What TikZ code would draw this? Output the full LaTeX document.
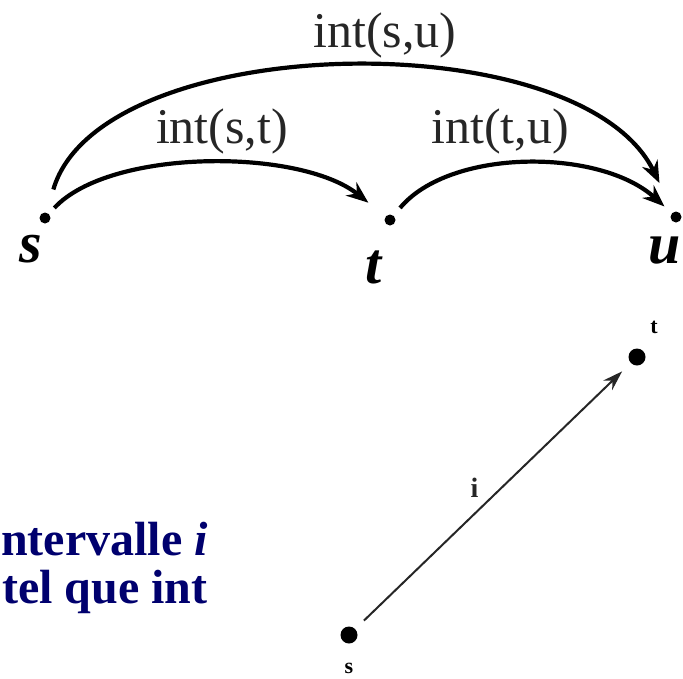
\documentclass[tikz,border=0pt]{standalone}
\usepackage{fontspec}
\setmainfont{Liberation Serif}
\usetikzlibrary{arrows.meta}
\definecolor{navyblue}{RGB}{0,0,110}

\begin{document}
\begin{tikzpicture}[x=1pt, y=-1pt,
    dot/.style={circle, fill=black, inner sep=0pt, minimum size=11pt},
    bigdot/.style={circle, fill=black, inner sep=0pt, minimum size=17pt},
    arc/.style={-{Stealth[length=22pt,width=17pt]}, line width=4.2pt},
    thinarc/.style={-{Stealth[length=20pt,width=13pt]}, line width=2pt, black!85},
    ptname/.style={font=\fontsize{58}{60}\selectfont\bfseries\itshape},
    intlabel/.style={font=\fontsize{50}{52}\selectfont, text=black!85},
    smalllabel/.style={font=\fontsize{22}{24}\selectfont\bfseries},
    bluetext/.style={font=\fontsize{48}{48}\selectfont\bfseries, text=navyblue},
]
    \useasboundingbox (0,0) rectangle (683,678);

    % upper figure: s, t, u
    \node[dot] (ds) at (45,218) {};
    \node[dot] (dt) at (390,220) {};
    \node[dot] (du) at (676,217) {};

    \node[ptname, anchor=base] (ls) at (31,262) {s};
    \node[ptname, anchor=base] (lt) at (374,283) {t};
    \node[ptname, anchor=base] (lu) at (665,263) {u};

    \draw[arc, shorten <=24pt, shorten >=32pt] (ds) .. controls (100,30) and (580,20) .. (du);
    \draw[arc, shorten <=8pt, shorten >=22pt] (ds) .. controls (110,148) and (300,148) .. (dt);
    \draw[arc, shorten <=10pt, shorten >=10pt] (dt) .. controls (450,148) and (600,148) .. (du);

    \node[intlabel, anchor=base] (lsu) at (385,47) {int(s,u)};
    \node[intlabel, anchor=base] (lst) at (222,143) {int(s,t)};
    \node[intlabel, anchor=base] (ltu) at (500,143) {int(t,u)};

    % lower figure: interval i
    \node[bigdot] (ds2) at (349,635) {};
    \node[bigdot] (dt2) at (637,357) {};
    \node[smalllabel] (ls2) at (349,668) {s};
    \node[smalllabel] (lt2) at (654,327) {t};
    \draw[thinarc, shorten <=12pt, shorten >=12pt] (ds2) -- (dt2)
        node[pos=0.47, above left=2pt, font=\fontsize{28}{30}\selectfont\bfseries] (li) {i};

    % text on the left
    \node[bluetext, anchor=base west, inner sep=0pt] (txt1) at (1,555) {ntervalle \textit{i}};
    \node[bluetext, anchor=base west, inner sep=0pt] (txt2) at (2,603) {tel que int};
\end{tikzpicture}
\end{document}
